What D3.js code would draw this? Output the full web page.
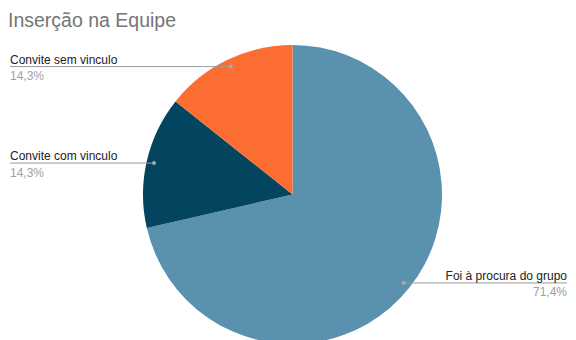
<!DOCTYPE html>
<html>
<head>
<meta charset="utf-8">
<script src="https://cdn.jsdelivr.net/npm/d3@7"></script>
<style>
  body { margin: 0; background: #fff; }
  svg { display: block; font-family: "Liberation Sans", Arial, sans-serif; }
</style>
</head>
<body>
<div id="chart"></div>
<script>
// slices in clockwise order from 12 o'clock
var categories = ['Foi à procura do grupo', 'Convite com vinculo', 'Convite sem vinculo'];
var shares = [71.4, 14.3, 14.3];
var colors = ['#5a91af', '#03445f', '#fc6d31'];

var width = 576, height = 340;
var cx = 292.5, cy = 194.5, radius = 149.5;

var svg = d3.select('#chart').append('svg')
  .attr('width', width)
  .attr('height', height);

svg.append('text')
  .attr('x', 8)
  .attr('y', 27)
  .attr('fill', '#757575')
  .style('font-size', '19.5px')
  .text('Inserção na Equipe');

var slices = categories.map(function(c, i) {
  return { name: c, value: shares[i], color: colors[i] };
});

var pie = d3.pie().sort(null).value(function(d) { return d.value; });
var arc = d3.arc().innerRadius(0).outerRadius(radius);
var dotArc = d3.arc().innerRadius(radius * 0.95).outerRadius(radius * 0.95);

var g = svg.append('g').attr('transform', 'translate(' + cx + ',' + cy + ')');

var arcs = pie(slices);

g.selectAll('path')
  .data(arcs)
  .enter()
  .append('path')
  .attr('d', arc)
  .attr('fill', function(d) { return d.data.color; });

var fmt = function(v) { return d3.format('.1f')(v).replace('.', ',') + '%'; };

// leader lines + labels
var labels = svg.append('g');
arcs.forEach(function(d) {
  var p = dotArc.centroid(d);
  var px = cx + p[0], py = cy + p[1];
  var left = px < cx;
  var tx = left ? 10 : 567;

  labels.append('line')
    .attr('x1', tx).attr('x2', px)
    .attr('y1', py).attr('y2', py)
    .attr('stroke', '#9a9a9a')
    .attr('stroke-width', 1);

  labels.append('circle')
    .attr('cx', px).attr('cy', py).attr('r', 2)
    .attr('fill', '#a8a8a8');

  labels.append('text')
    .attr('x', tx).attr('y', py - 3)
    .attr('text-anchor', left ? 'start' : 'end')
    .attr('fill', '#222')
    .style('font-size', '12px')
    .text(d.data.name);

  labels.append('text')
    .attr('x', tx).attr('y', py + 13.5)
    .attr('text-anchor', left ? 'start' : 'end')
    .attr('fill', '#a0a0a0')
    .style('font-size', '12px')
    .text(fmt(d.data.value));
});
</script>
</body>
</html>
